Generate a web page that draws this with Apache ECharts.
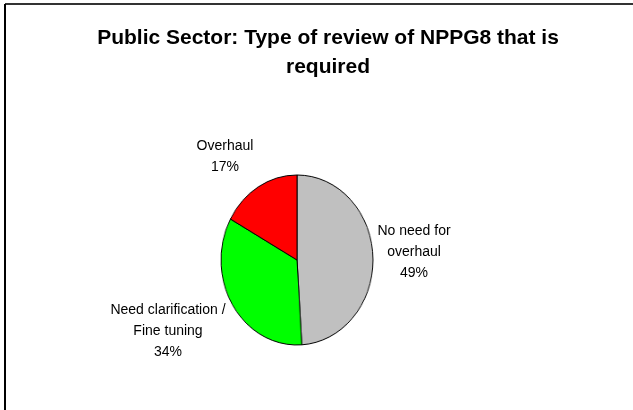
<!DOCTYPE html>
<html>
<head>
<meta charset="utf-8">
<script src="https://cdn.jsdelivr.net/npm/echarts@6/dist/echarts.min.js"></script>
<style>
html,body{margin:0;padding:0;background:#fff;}
#wrap{position:relative;width:633px;height:410px;}
#c{position:absolute;left:0;top:0;width:633px;height:410px;}
#p{position:absolute;left:0;top:0;width:633px;height:410px;transform-origin:297px 260px;transform:scaleX(0.894);}
</style>
</head>
<body>
<div id="wrap"><div id="c"></div><div id="p"></div></div>
<script>
const titleText = 'Public Sector: Type of review of NPPG8 that is\nrequired';
const categories = ['No need for\noverhaul', 'Need clarification /\nFine tuning', 'Overhaul'];
const values = [49, 34, 17];
const colors = ['#c0c0c0', '#00ff00', '#ff0000'];

const labelPos = [
  {x: 414, y: 252},
  {x: 168, y: 331},
  {x: 225, y: 157}
];

const total = values.reduce((a, b) => a + b, 0);
const FONT = 'Liberation Sans, Arial, sans-serif';

// main chart: frame, title and slice labels
const chart = echarts.init(document.getElementById('c'), null, {renderer: 'canvas'});
chart.setOption({
  backgroundColor: '#ffffff',
  animation: false,
  title: {
    text: titleText,
    left: 323,
    textAlign: 'center',
    top: 19,
    textStyle: {fontFamily: FONT, fontWeight: 'bold', fontSize: 21, lineHeight: 29, color: '#000'}
  },
  graphic: [
    {type: 'line', shape: {x1: 5, y1: 4, x2: 633, y2: 4}, style: {stroke: '#333', lineWidth: 2}},
    {type: 'line', shape: {x1: 5, y1: 4, x2: 5, y2: 410}, style: {stroke: '#000', lineWidth: 2}}
  ],
  series: [{
    type: 'pie',
    center: [297, 260],
    radius: 85,
    startAngle: 90,
    clockwise: true,
    avoidLabelOverlap: false,
    data: categories.map((n, i) => ({name: n, value: values[i]})),
    itemStyle: {color: 'rgba(0,0,0,0)', borderWidth: 0},
    label: {
      show: true,
      position: 'outside',
      formatter: p => p.name + '\n' + Math.round(p.value / total * 100) + '%',
      fontFamily: FONT, fontSize: 14, lineHeight: 21, color: '#000', align: 'center'
    },
    labelLine: {show: false},
    labelLayout: p => ({x: labelPos[p.dataIndex].x, y: labelPos[p.dataIndex].y, align: 'center', verticalAlign: 'middle'}),
    emphasis: {disabled: true},
    silent: true
  }]
});

// slices (elliptical as in the reference via horizontal scaling of the container)
const pie = echarts.init(document.getElementById('p'), null, {renderer: 'canvas'});
pie.setOption({
  backgroundColor: 'transparent',
  animation: false,
  series: [{
    type: 'pie',
    center: [297, 260],
    radius: 85,
    startAngle: 90,
    clockwise: true,
    data: categories.map((n, i) => ({
      name: n, value: values[i],
      itemStyle: {color: colors[i], borderColor: '#000', borderWidth: 1}
    })),
    label: {show: false},
    labelLine: {show: false},
    emphasis: {disabled: true}
  }]
});
</script>
</body>
</html>
